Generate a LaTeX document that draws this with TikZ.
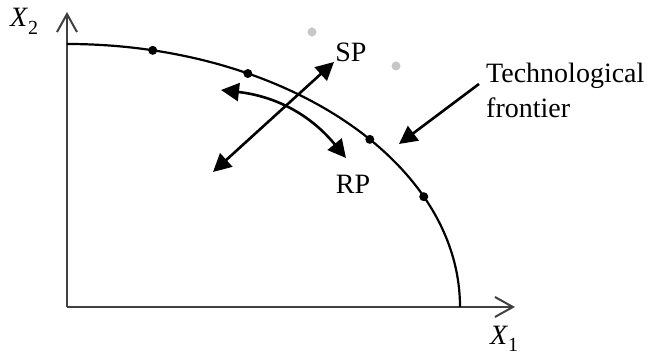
\documentclass[tikz,border=0pt]{standalone}
\usepackage{fontspec}
\setmainfont{Liberation Serif}
\usetikzlibrary{arrows.meta,calc}
\begin{document}
\begin{tikzpicture}[x=1pt,y=1pt,
  axis/.style={draw=black!75,line width=2pt,-{Straight Barb[length=18pt,width=20pt,line width=2pt]}},
  frontier/.style={draw=black,line width=2.2pt},
  dot/.style={circle,fill=black,inner sep=0pt,minimum size=9pt},
  gdot/.style={circle,fill=black!22,inner sep=0pt,minimum size=9pt},
  bigarrow/.style={draw=black,line width=2.6pt,{Triangle[length=18pt,width=18pt]}-{Triangle[length=18pt,width=18pt]}},
  onearrow/.style={draw=black,line width=2.6pt,-{Triangle[length=18pt,width=18pt]}},
  lbl/.style={font=\fontsize{28}{34}\selectfont,inner sep=0pt}]
\useasboundingbox (0,0) rectangle (654,358);
% axes
\coordinate (O) at (67,51);
\coordinate (Ytop) at (67,346);
\coordinate (Xend) at (515,51);
\draw[axis] (O) -- (Ytop);
\draw[axis] (O) -- (Xend);
\node[lbl,anchor=base west] (x2) at (10,331) {\textit{X}\raisebox{-8pt}{\fontsize{20}{20}\selectfont 2}};
\node[lbl,anchor=base west] (x1) at (490,13) {\textit{X}\raisebox{-7pt}{\fontsize{20}{20}\selectfont 1}};
% frontier
\draw[frontier] (67,314) arc[start angle=90,end angle=0,x radius=393,y radius=263];
\path (O) ++(77.4:393 and 263) node[dot] (d1) {};
\path (O) ++(62.6:393 and 263) node[dot] (d2) {};
\path (O) ++(39.6:393 and 263) node[dot] (d3) {};
\path (O) ++(24.8:393 and 263) node[dot] (d4) {};
% grey points
\node[gdot] (g1) at (312,326) {};
\node[gdot] (g2) at (396,292) {};
% labels
\node[lbl] (sp) at (351,306) {SP};
\node[lbl] (rp) at (353,174) {RP};
\node[lbl,anchor=base west] (tf) at (486,275) {Technological};
\node[lbl,anchor=base west] (tf2) at (486,240) {frontier};
% arrows
\coordinate (a1) at (213,186);
\coordinate (a2) at (334,296);
\draw[bigarrow] (a1) -- (a2);
\coordinate (c1) at (221,268);
\coordinate (c2) at (346,200);
\draw[bigarrow] (c1) to[bend left=22] (c2);
\coordinate (t1) at (479,274);
\coordinate (t2) at (399,214);
\draw[onearrow] (t1) -- (t2);
\end{tikzpicture}
\end{document}
